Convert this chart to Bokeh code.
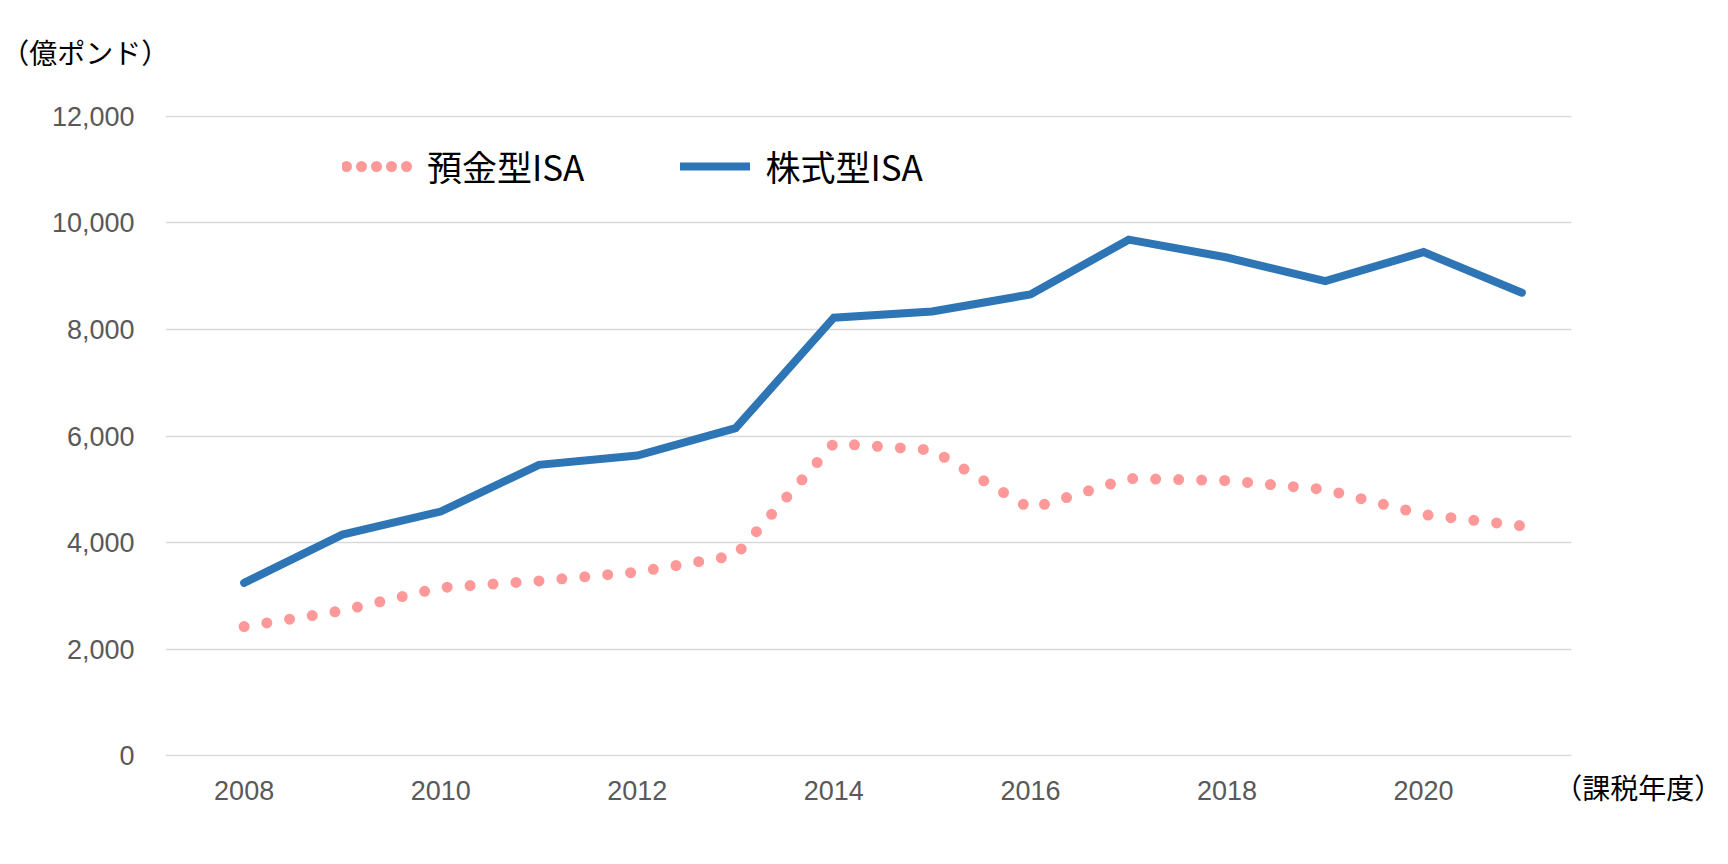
from bokeh.plotting import figure
from bokeh.models import (Range1d, FixedTicker, NumeralTickFormatter, Legend,
                          LegendItem, Label, ColumnDataSource, CDSView, IndexFilter)
from bokeh.embed import file_html
from bokeh.resources import INLINE

# ---- data ----
years = [2008, 2009, 2010, 2011, 2012, 2013, 2014, 2015, 2016, 2017, 2018, 2019, 2020, 2021]
cash_isa = [2423, 2723, 3155, 3281, 3446, 3760, 5860, 5737, 4638, 5202, 5164, 4995, 4526, 4314]
stocks_isa = [3243, 4150, 4582, 5459, 5634, 6146, 8220, 8338, 8657, 9685, 9350, 8907, 9452, 8689]
series_names = ["預金型ISA", "株式型ISA"]
y_ticks = [0, 2000, 4000, 6000, 8000, 10000, 12000]
x_ticks = [2008, 2010, 2012, 2014, 2016, 2018, 2020]
y_unit = "（億ポンド）"
x_unit = "（課税年度）"

JP = "Noto Sans CJK JP"
GREY = "#595959"
PINK = "#FF9999"
BLUE = "#2E75B6"

src = ColumnDataSource(data=dict(year=years, cash=cash_isa, stocks=stocks_isa))

p = figure(width=1728, height=858, output_backend="svg", toolbar_location=None,
           x_range=Range1d(2007.2, 2021.505), y_range=Range1d(-15, 12015),
           min_border_left=165, min_border_right=157,
           min_border_top=115, min_border_bottom=102)
p.outline_line_color = None
p.background_fill_color = "white"
p.border_fill_color = "white"

# axes
p.yaxis.ticker = FixedTicker(ticks=y_ticks)
p.yaxis.formatter = NumeralTickFormatter(format="0,0")
p.xaxis.ticker = FixedTicker(ticks=x_ticks)
for ax in (p.xaxis, p.yaxis):
    ax.axis_line_color = None
    ax.major_tick_line_color = None
    ax.minor_tick_line_color = None
    ax.major_label_text_font = "Liberation Sans"
    ax.major_label_text_font_size = "27px"
    ax.major_label_text_color = GREY
p.yaxis.major_label_standoff = 25
p.xaxis.major_label_standoff = 18

p.xgrid.grid_line_color = None
p.ygrid.grid_line_color = "#D9D9D9"
p.ygrid.grid_line_width = 1.5

# series
r_cash = p.line("year", "cash", source=src, line_color=PINK, line_width=11,
                line_dash="0 23", line_cap="round")
r_stock = p.line("year", "stocks", source=src, line_color=BLUE, line_width=8,
                 line_cap="round", line_join="miter")
# legend symbol for the dotted series: denser dots; a single-point view draws
# nothing inside the plot
r_cash_key = p.line("year", "cash", source=src, line_color=PINK, line_width=11,
                    line_dash="0 15", line_dash_offset=11, line_cap="round",
                    view=CDSView(filter=IndexFilter([0])))

legend = Legend(items=[LegendItem(label=series_names[0], renderers=[r_cash_key]),
                       LegendItem(label=series_names[1], renderers=[r_stock])],
                orientation="horizontal", location=(177, 565),
                label_text_font=JP, label_text_font_size="35px",
                label_text_color="black",
                glyph_width=70, glyph_height=20, label_standoff=15, spacing=96,
                padding=0, margin=0, border_line_color=None,
                background_fill_alpha=0)
p.add_layout(legend)

p.add_layout(Label(x=2005.528, y=13205, text=y_unit, text_font=JP,
                   text_font_size="28px", text_baseline="middle",
                   text_align="left", text_color="black"), "above")
p.add_layout(Label(x=2021.329, y=-582, text=x_unit, text_font=JP,
                   text_font_size="28px", text_baseline="middle",
                   text_align="left", text_color="black"), "below")

open("out.html", "w").write(file_html(p, INLINE))
